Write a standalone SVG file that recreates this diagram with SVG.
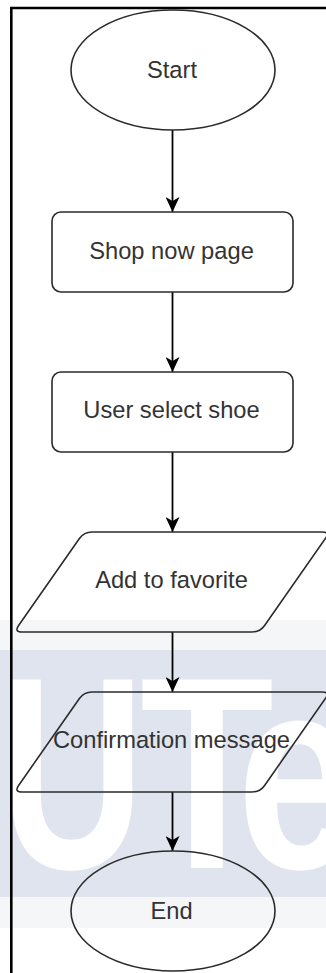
<svg xmlns="http://www.w3.org/2000/svg" width="326" height="973" viewBox="0 0 326 973">
  <style>
    .shape { fill: none; stroke: #2b2b2b; stroke-width: 1.6; stroke-linejoin: round; }
    .label { font-family: "Liberation Sans", Arial, sans-serif; font-size: 23.7px; fill: #333333; text-anchor: middle; }
    .edge { stroke: #000000; stroke-width: 1.8; fill: none; }
    .wm { font-family: "Liberation Sans", Arial, sans-serif; font-weight: bold; font-size: 274px; fill: #ffffff; }
  </style>
  <defs>
    <marker id="arrow" viewBox="0 0 15 14" refX="15" refY="7" markerWidth="15" markerHeight="14" orient="auto" markerUnits="userSpaceOnUse">
      <path d="M0,0 L15,7 L0,14 L4,7 Z" fill="#000000"/>
    </marker>
  </defs>

  <rect x="0" y="0" width="326" height="973" fill="#ffffff"/>

  <!-- background watermark -->
  <g id="watermark">
    <rect x="0" y="620" width="326" height="30" fill="#f5f6f8"/>
    <rect x="0" y="650" width="326" height="247" fill="#dfe4ee"/>
    <rect x="0" y="897" width="326" height="31" fill="#f5f6f8"/>
    <text class="wm" transform="translate(0,868) scale(0.73,1)">U</text>
    <text class="wm" transform="translate(140,868) scale(0.8,1)">T</text>
    <text class="wm" transform="translate(237,868) scale(0.8,1)">e</text>
  </g>

  <!-- page frame -->
  <path d="M11.3,980 V8 H330" fill="none" stroke="#000000" stroke-width="2.6"/>

  <g id="connectors">
    <line class="edge" x1="172.5" y1="130" x2="172.5" y2="212" marker-end="url(#arrow)"/>
    <line class="edge" x1="172.5" y1="292" x2="172.5" y2="372" marker-end="url(#arrow)"/>
    <line class="edge" x1="172.5" y1="452" x2="172.5" y2="532" marker-end="url(#arrow)"/>
    <line class="edge" x1="172.5" y1="632" x2="172.5" y2="692" marker-end="url(#arrow)"/>
    <line class="edge" x1="172.5" y1="792" x2="172.5" y2="851" marker-end="url(#arrow)"/>
  </g>

  <g id="start">
    <ellipse class="shape" cx="173" cy="70" rx="102" ry="60"/>
    <text class="label" x="172" y="78">Start</text>
  </g>

  <g id="shop-now-page">
    <rect class="shape" x="52" y="212" width="241" height="80" rx="9"/>
    <text class="label" x="171.5" y="259">Shop now page</text>
  </g>

  <g id="user-select-shoe">
    <rect class="shape" x="52" y="372" width="241" height="80" rx="9"/>
    <text class="label" x="171.5" y="418">User select shoe</text>
  </g>

  <g id="add-to-favorite">
    <path class="shape" d="M92,532 H322 Q330,532 325.41,538.55 L264.59,625.45 Q260,632 252,632 H22 Q14,632 18.59,625.45 L79.41,538.55 Q84,532 92,532 Z"/>
    <text class="label" x="171.5" y="588">Add to favorite</text>
  </g>

  <g id="confirmation-message">
    <path class="shape" d="M92,692 H322 Q330,692 325.41,698.55 L264.59,785.45 Q260,792 252,792 H22 Q14,792 18.59,785.45 L79.41,698.55 Q84,692 92,692 Z"/>
    <text class="label" x="171.5" y="748">Confirmation message</text>
  </g>

  <g id="end">
    <ellipse class="shape" cx="173" cy="911" rx="102" ry="60"/>
    <text class="label" x="171.5" y="919">End</text>
  </g>
</svg>
